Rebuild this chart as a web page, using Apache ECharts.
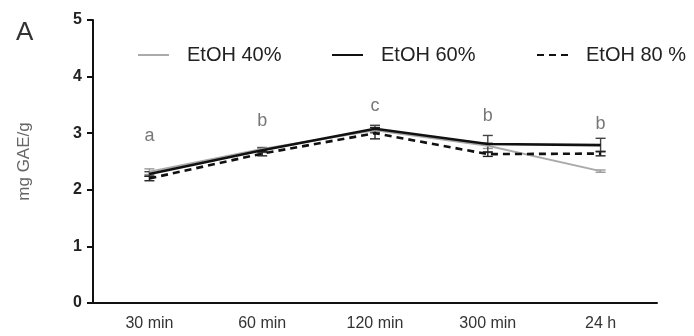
<!DOCTYPE html>
<html><head><meta charset="utf-8">
<script src="https://cdn.jsdelivr.net/npm/echarts@6/dist/echarts.min.js"></script>
<style>html,body{margin:0;padding:0;background:#fff}#c{width:694px;height:336px}</style>
</head><body><div id="c"></div>
<script>
var categories = ['30 min', '60 min', '120 min', '300 min', '24 h'];
var etoh40 = [2.32, 2.72, 3.05, 2.78, 2.33];
var etoh60 = [2.28, 2.70, 3.08, 2.81, 2.79];
var etoh80 = [2.20, 2.64, 3.00, 2.63, 2.64];
var err40 = [0.05, 0.03, 0.05, 0.05, 0.02];
var err60 = [0.04, 0.04, 0.06, 0.15, 0.12];
var err80 = [0.04, 0.04, 0.10, 0.04, 0.04];
var letters = ['a', 'b', 'c', 'b', 'b'];
var letterY = [2.95, 3.22, 3.48, 3.30, 3.16];
var yTicks = [0, 1, 2, 3, 4, 5];

var FONT = '"Liberation Sans", Arial, sans-serif';

function errSeries(name, vals, errs, color) {
  return {
    type: 'custom', name: name + ' err', silent: true, z: 3,
    data: vals.map(function (v, i) { return [i, v - errs[i], v + errs[i]]; }),
    renderItem: function (params, api) {
      var lo = api.coord([api.value(0), api.value(1)]);
      var hi = api.coord([api.value(0), api.value(2)]);
      var w = 5;
      var st = { stroke: color, lineWidth: 1.4 };
      return { type: 'group', children: [
        { type: 'line', shape: { x1: lo[0], y1: lo[1], x2: hi[0], y2: hi[1] }, style: st },
        { type: 'line', shape: { x1: lo[0] - w, y1: lo[1], x2: lo[0] + w, y2: lo[1] }, style: st },
        { type: 'line', shape: { x1: hi[0] - w, y1: hi[1], x2: hi[0] + w, y2: hi[1] }, style: st }
      ]};
    }
  };
}

var chart = echarts.init(document.getElementById('c'), null, { renderer: 'canvas' });
var legendText = { fontFamily: FONT, fontSize: 20, color: '#222', padding: [0, 0, 0, 13] };
function lg(name, left) {
  return { data: [name], left: left, top: 40, itemWidth: 31, itemHeight: 16, itemGap: 0,
    itemStyle: { opacity: 0, borderWidth: 0 }, textStyle: legendText };
}
chart.setOption({
  animation: false,
  textStyle: { fontFamily: FONT },
  grid: { left: 93, right: 37, top: 20, bottom: 33 },
  title: { text: 'A', left: 11, top: 15, textStyle: { fontFamily: FONT, fontSize: 26, fontWeight: 'normal', color: '#333' } },
  legend: [ lg('EtOH 40%', 132), lg('EtOH 60%', 326), lg('EtOH 80 %', 531) ],
  xAxis: {
    type: 'category', data: categories, boundaryGap: true,
    axisLine: { lineStyle: { color: '#111', width: 2 } },
    axisTick: { alignWithLabel: true, length: 6, lineStyle: { color: '#111', width: 2 } },
    axisLabel: { fontFamily: FONT, fontSize: 16, color: '#333', margin: 13 },
    splitLine: { show: false }
  },
  yAxis: {
    type: 'value', min: 0, max: 5, interval: 1,
    name: 'mg GAE/g', nameLocation: 'middle', nameGap: 60, nameRotate: 90,
    nameTextStyle: { fontFamily: FONT, fontSize: 17, color: '#666' },
    axisLine: { show: true, lineStyle: { color: '#111', width: 2 } },
    axisTick: { show: true, length: 6, lineStyle: { color: '#111', width: 2 } },
    axisLabel: { fontFamily: FONT, fontSize: 16, fontWeight: 'bold', color: '#222', margin: 11,
      formatter: function (v) { return yTicks.indexOf(v) >= 0 ? String(v) : ''; } },
    splitLine: { show: false }
  },
  series: [
    { name: 'EtOH 40%', type: 'line', data: etoh40, symbol: 'none', z: 4,
      lineStyle: { color: '#aaaaaa', width: 2 }, itemStyle: { color: '#aaaaaa' } },
    { name: 'EtOH 60%', type: 'line', data: etoh60, symbol: 'none', z: 5,
      lineStyle: { color: '#111', width: 2.6 }, itemStyle: { color: '#111' } },
    { name: 'EtOH 80 %', type: 'line', data: etoh80, symbol: 'none', z: 6,
      lineStyle: { color: '#111', width: 2.6, type: [7, 5] }, itemStyle: { color: '#111' } },
    errSeries('EtOH 40%', etoh40, err40, '#999'),
    errSeries('EtOH 60%', etoh60, err60, '#444'),
    errSeries('EtOH 80 %', etoh80, err80, '#222'),
    { type: 'scatter', name: 'letters', symbolSize: 0, silent: true,
      data: letterY.map(function (v, i) { return { value: [i, v], name: letters[i] }; }),
      label: { show: true, position: 'inside', formatter: function (p) { return p.name; },
        fontFamily: FONT, fontSize: 18, color: '#555' } }
  ]
});
</script></body></html>
